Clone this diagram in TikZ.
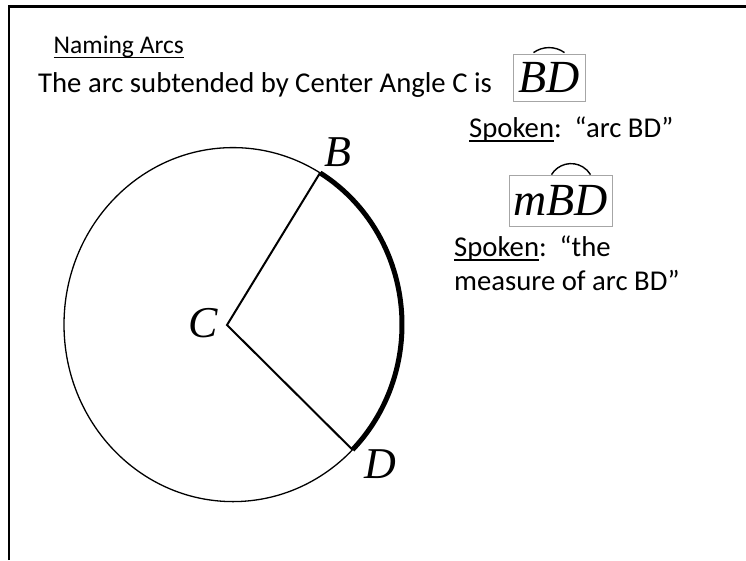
\documentclass[tikz,border=0pt]{standalone}
\usepackage{fontspec}
\setmainfont{Carlito}
\newfontfamily\serif{Liberation Serif}
\usetikzlibrary{positioning}

% 带下划线的文字
\newcommand{\ulword}[1]{\setbox0=\hbox{#1}\rlap{\rule[-4.5pt]{\wd0}{1.5pt}}#1}

\begin{document}
\begin{tikzpicture}[
x=1pt, y=-1pt,
txt/.style={anchor=base west, inner sep=0pt, font=\fontsize{28.7}{34}\selectfont},
ptlabel/.style={anchor=base west, inner sep=0pt, font=\serif\itshape\fontsize{44}{50}\selectfont},
symbox/.style={draw=gray!70, line width=0.8pt, inner sep=0pt, font=\serif\itshape\fontsize{46}{50}\selectfont},
overarc/.style={line width=1.4pt}
]
\useasboundingbox (0,0) rectangle (746,560);

% ---- 外框 ----
\draw[line width=2.5pt] (9,560) -- (9,6.5) -- (746,6.5);

% ---- 标题与说明 ----
\node[txt, font=\fontsize{25.5}{30}\selectfont] (title) at (53.5,53.5) {\ulword{Naming Arcs}};
\node[txt] (intro) at (38,92) {The arc subtended by Center Angle C is};

% ---- 弧 BD 的记号 ----
\node[symbox, minimum width=72pt, minimum height=47pt] (arcBD) at (549,77.5) {BD};
\draw[overarc] ([shift={(-15.5pt,1pt)}]arcBD.north)
    arc[start angle=125.8, end angle=54.2, radius=26.5pt];
\node[txt] (spk1) at (469,137) {\ulword{Spoken}:\ \ “arc BD”};

% ---- 弧 BD 的度数记号 ----
\node[symbox, minimum width=103pt, minimum height=51pt] (measBD) at (560.5,200.5) {mBD};
\draw[overarc] ([shift={(-9pt,0pt)}]measBD.north)
    arc[start angle=148.8, end angle=31.2, radius=22.8pt];
\node[txt] (spk2) at (454,256) {\ulword{Spoken}:\ \ “the};
\node[txt, below=34pt of spk2.base west, anchor=base west] (meas) {measure of arc BD”};

% ---- 画圆 ----
\coordinate (O) at (233,324.6);
\coordinate (C) at (227,325);
\coordinate (B) at ([shift={(59:169pt and 177pt)}]O);
\coordinate (D) at ([shift={(-45:169pt and 177pt)}]O);
\draw[line width=1.3pt] (O) ellipse[x radius=169pt, y radius=177pt];

% ---- 圆心角与所对的弧 ----
\draw[line width=2pt] (B) -- (C) -- (D);
\draw[line width=5pt] (B) arc[start angle=59, end angle=-45, x radius=169pt, y radius=177pt];

% ---- 点的标注 ----
\node[ptlabel] (lblB) at (324,166) {B};
\node[ptlabel] (lblC) at (188,337) {C};
\node[ptlabel] (lblD) at (364,478) {D};
\end{tikzpicture}
\end{document}
